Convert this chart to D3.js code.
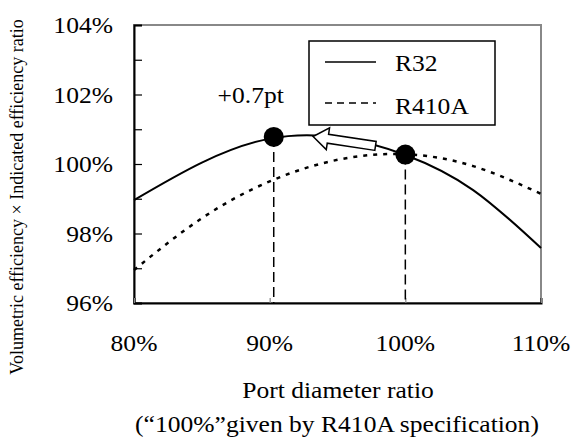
<!DOCTYPE html>
<html>
<head>
<meta charset="utf-8">
<script src="https://cdn.jsdelivr.net/npm/d3@7"></script>
<style>
  body { margin: 0; background: #fff; }
</style>
</head>
<body>
<div id="chart"></div>
<script>
const FONT = "Liberation Serif";
// big labels: drawn at 18px and scaled up (larger font sizes came out sans here)
const BASE = 18, SX = 1.42, SY = 1.3;

// port diameter ratio (%)
const portRatio = [80, 85, 90, 95, 100, 105, 110];
// volumetric x indicated efficiency ratio (%)
const r32Values = [98.96, 100.04, 100.73, 100.77, 100.26, 99.25, 97.58];
const r410aValues = [96.95, 98.44, 99.50, 100.12, 100.28, 99.94, 99.14];
// optimum points: R32 and R410A
const markerX = [90.3, 100];
const markerY = [100.78, 100.27];
const arrowFrom = [97.8, 100.52];
const arrowTo = [93.2, 100.79];

const xTicks = [80, 90, 100, 110];
const yTicks = [96, 97, 98, 99, 100, 101, 102, 103, 104];

var width = 574,
    height = 443;
var margin = {top: 25, right: 33, bottom: 140, left: 134};
var innerW = width - margin.left - margin.right,
    innerH = height - margin.top - margin.bottom;

const svg = d3.select("#chart").append("svg")
  .attr("width", width)
  .attr("height", height);

const x = d3.scaleLinear().domain([80, 110]).range([0, innerW]);
const y = d3.scaleLinear().domain([96, 104]).range([innerH, 0]);

const g = svg.append("g")
  .attr("transform", `translate(${margin.left},${margin.top})`);

function addText(sel, size) {
  return sel.append("text")
    .attr("font-family", FONT)
    .attr("font-size", size)
    .style("font-family", `"${FONT}"`)
    .style("font-size", size + "px")
    .attr("fill", "#000");
}

function bigText(sel, tx, ty, anchor, str) {
  return addText(sel, BASE)
    .attr("transform", `translate(${tx},${ty}) scale(${SX},${SY})`)
    .attr("text-anchor", anchor)
    .text(str);
}

// frame (top/right in gray)
g.append("rect")
  .attr("width", innerW)
  .attr("height", innerH)
  .attr("fill", "none")
  .attr("stroke", "#888")
  .attr("stroke-width", 2);

// y axis, ticks inward
const yAxis = g.append("g")
  .call(d3.axisLeft(y).tickValues(yTicks).tickSize(-8).tickFormat(""));
yAxis.select(".domain").attr("stroke", "#000").attr("stroke-width", 2);
yAxis.selectAll(".tick line").attr("stroke", "#000").attr("stroke-width", 1.2);

yTicks.filter(d => d % 2 === 0).forEach(function(d) {
  bigText(g, -21, y(d) + 8, "end", d + "%");
});

// x axis
const xAxis = g.append("g")
  .attr("transform", `translate(0,${innerH})`)
  .call(d3.axisBottom(x).tickValues(xTicks).tickSize(-5).tickFormat(""));
xAxis.select(".domain").attr("stroke", "#000").attr("stroke-width", 2);
xAxis.selectAll(".tick line").attr("stroke", "#888").attr("stroke-width", 1.2);

xTicks.forEach(function(d) {
  bigText(g, x(d), innerH + 48, "middle", d + "%");
});

// axis titles
bigText(svg, 338, 398, "middle", "Port diameter ratio");
bigText(svg, 337, 432, "middle", "(\u201c100%\u201dgiven by R410A specification)");
addText(svg, 18)
  .attr("transform", "translate(23,197) rotate(-90)")
  .attr("text-anchor", "middle")
  .text("Volumetric efficiency \u00d7 Indicated efficiency ratio");

// curves
const line = d3.line()
  .x(d => x(d[0]))
  .y(d => y(d[1]))
  .curve(d3.curveNatural);

g.append("path")
  .datum(portRatio.map((p, i) => [p, r410aValues[i]]))
  .attr("d", line)
  .attr("fill", "none")
  .attr("stroke", "#000")
  .attr("stroke-width", 2.5)
  .attr("stroke-dasharray", "4,6");

g.append("path")
  .datum(portRatio.map((p, i) => [p, r32Values[i]]))
  .attr("d", line)
  .attr("fill", "none")
  .attr("stroke", "#000")
  .attr("stroke-width", 2);

// drop lines from the optimum points
g.selectAll("line.drop")
  .data(markerX)
  .join("line")
  .attr("class", "drop")
  .attr("x1", d => x(d))
  .attr("x2", d => x(d))
  .attr("y1", (d, i) => y(markerY[i]))
  .attr("y2", innerH)
  .attr("stroke", "#000")
  .attr("stroke-width", 1.5)
  .attr("stroke-dasharray", "10,5");

g.selectAll("circle.pt")
  .data(markerX)
  .join("circle")
  .attr("class", "pt")
  .attr("cx", d => x(d))
  .attr("cy", (d, i) => y(markerY[i]))
  .attr("r", 10)
  .attr("fill", "#000");

// block arrow (open)
(function drawArrow() {
  const x0 = x(arrowFrom[0]), y0 = y(arrowFrom[1]);
  const x1 = x(arrowTo[0]), y1 = y(arrowTo[1]);
  const len = Math.hypot(x1 - x0, y1 - y0);
  const ang = Math.atan2(y1 - y0, x1 - x0) * 180 / Math.PI;
  const sw = 4.5, hw = 11, hl = 15;
  const pts = [[0, -sw], [len - hl, -sw], [len - hl, -hw], [len, 0],
               [len - hl, hw], [len - hl, sw], [0, sw]];
  g.append("path")
    .attr("transform", `translate(${x0},${y0}) rotate(${ang})`)
    .attr("d", d3.line()(pts) + "Z")
    .attr("fill", "#fff")
    .attr("stroke", "#000")
    .attr("stroke-width", 1.5);
})();

bigText(g, x(90.3) - 23, y(102) + 8, "middle", "+0.7pt");

// legend
const legend = svg.append("g").attr("transform", "translate(309,41)");
legend.append("rect")
  .attr("width", 186)
  .attr("height", 84)
  .attr("fill", "#fff")
  .attr("stroke", "#000")
  .attr("stroke-width", 1.5);
const legendItems = [{name: "R32", dash: null}, {name: "R410A", dash: "7,5"}];
legendItems.forEach(function(d, i) {
  legend.append("line")
    .attr("x1", 16).attr("x2", 67)
    .attr("y1", 21 + i * 41).attr("y2", 21 + i * 41)
    .attr("stroke", "#000")
    .attr("stroke-width", 1.5)
    .attr("stroke-dasharray", d.dash);
  bigText(legend, 86, 30 + i * 43, "start", d.name);
});
</script>
</body>
</html>
